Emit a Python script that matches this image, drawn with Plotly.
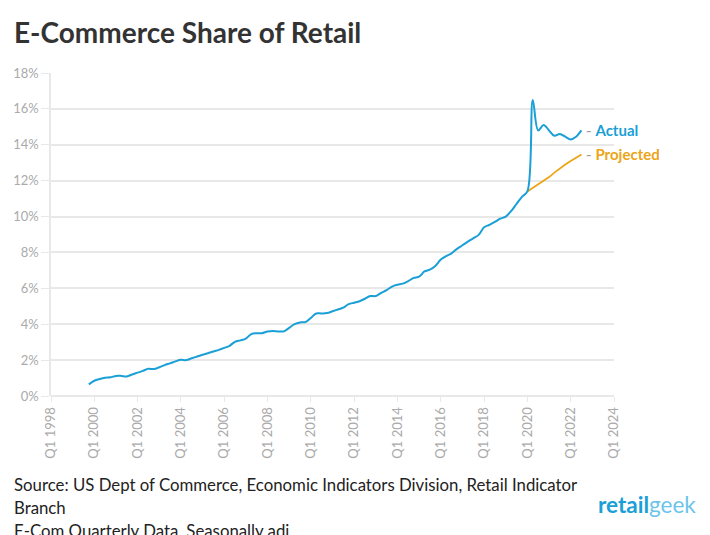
import pandas as pd
import plotly.graph_objects as go

# quarterly e-commerce share of total retail (%), Q4 1999 .. Q3 2022
start_quarter = "1999Q4"
actual = [
    0.65,
    0.85, 0.95, 1.02, 1.04,
    1.12, 1.12, 1.09, 1.2,
    1.3, 1.4, 1.52, 1.5,
    1.6, 1.72, 1.82, 1.93,
    2.02, 2.0, 2.1, 2.2,
    2.3, 2.38, 2.48, 2.57,
    2.68, 2.8, 3.02, 3.1,
    3.2, 3.45, 3.5, 3.5,
    3.6, 3.62, 3.6, 3.6,
    3.8, 4.0, 4.1, 4.12,
    4.35, 4.6, 4.6, 4.62,
    4.72, 4.82, 4.92, 5.12,
    5.2, 5.28, 5.42, 5.57,
    5.57, 5.75, 5.9, 6.1,
    6.2, 6.26, 6.4, 6.58,
    6.65, 6.94, 7.04, 7.25,
    7.6, 7.8, 7.95, 8.2,
    8.4, 8.6, 8.78, 8.98,
    9.4, 9.54, 9.7, 9.88,
    10.0, 10.3, 10.7, 11.1,
    11.4, 16.5, 14.8, 15.1,
    14.8, 14.5, 14.6, 14.45,
    14.3, 14.45, 14.8,
]

# pre-pandemic trend, Q1 2020 .. Q3 2022
projected_start = "2020Q1"
projected = [11.4, 11.6, 11.8, 12.0, 12.2, 12.45, 12.7, 12.9, 13.1, 13.3, 13.46]

series_names = ["Actual", "Projected"]
y_ticks = [0, 2, 4, 6, 8, 10, 12, 14, 16, 18]
x_range = ["1998-01-01", "2024-01-01"]

title_text = "E-Commerce Share of Retail"
source_lines = [
    "Source: US Dept of Commerce, Economic Indicators Division, Retail Indicator",
    "Branch",
    "E-Com Quarterly Data, Seasonally adj",
]

BLUE = "#1a9fd6"
ORANGE = "#eba516"
GRID = "#e8e8e8"
FONT = "Lato"

# plot area in page pixels, used to place the free texts
PL, PR, PT, PB = 51, 614, 73, 396


def px(x):
    return (x - PL) / (PR - PL)


def py(y):
    return (PB - y) / (PB - PT)


actual_x = pd.period_range(start_quarter, periods=len(actual), freq="Q").to_timestamp()
projected_x = pd.period_range(projected_start, periods=len(projected), freq="Q").to_timestamp()

fig = go.Figure()
fig.add_trace(go.Scatter(x=projected_x, y=projected, mode="lines", name=series_names[1],
                         line=dict(color=ORANGE, width=1.8), hoverinfo="x+y"))
fig.add_trace(go.Scatter(x=actual_x, y=actual, mode="lines", name=series_names[0],
                         line=dict(color=BLUE, width=2, shape="spline", smoothing=1.0),
                         hoverinfo="x+y"))

# end-of-line labels
for name, xs, ys, col in [(series_names[0], actual_x, actual, BLUE),
                          (series_names[1], projected_x, projected, ORANGE)]:
    fig.add_annotation(x=xs[-1], y=ys[-1], xref="x", yref="y", xanchor="left", yanchor="middle",
                       xshift=3, showarrow=False,
                       text="<span style='color:#999'>-</span> <b>%s</b>" % name,
                       font=dict(family=FONT, size=15, color=col))

fig.add_annotation(x=px(12), y=py(32), xref="paper", yref="paper", xanchor="left",
                   yanchor="middle", showarrow=False, text="<b>%s</b>" % title_text,
                   font=dict(family=FONT, size=28, color="#333333"))

for i, line in enumerate(source_lines):
    fig.add_annotation(x=px(12), y=py(484 + 23 * i), xref="paper", yref="paper",
                       xanchor="left", yanchor="middle", showarrow=False, text=line,
                       font=dict(family=FONT, size=16.8, color="#222222"))

fig.add_annotation(x=px(698), y=py(505), xref="paper", yref="paper", xanchor="right",
                   yanchor="middle", showarrow=False,
                   text="<b>retail</b><span style='color:#6cc4ea'>geek</span>",
                   font=dict(family=FONT, size=22.5, color=BLUE))

# the page adds an 8px body margin, so the margins are shifted by that much
fig.update_layout(
    width=710, height=535,
    margin=dict(l=PL - 8, r=710 - (PR - 8), t=PT - 8, b=535 - (PB - 8)),
    paper_bgcolor="white", plot_bgcolor="white",
    showlegend=False,
    font=dict(family=FONT, color="#aaaaaa", size=13),
)
fig.update_xaxes(type="date", range=x_range, dtick="M24", tick0="1998-01-01",
                 tickformat="Q%q %Y", tickangle=-90, showgrid=False, automargin=False,
                 showline=False, ticks="outside", ticklen=5, tickcolor=GRID,
                 tickfont=dict(family=FONT, size=13, color="#aaaaaa"))
fig.update_yaxes(range=[0, 18], tickvals=y_ticks, ticktext=["%d%%" % v for v in y_ticks],
                 automargin=False,
                 showgrid=True, gridcolor=GRID, gridwidth=1.5, zeroline=True, zerolinecolor=GRID,
                 zerolinewidth=1.5, showline=True, linecolor=GRID, linewidth=1.5,
                 ticks="outside", ticklen=8, tickcolor=GRID,
                 tickfont=dict(family=FONT, size=13, color="#aaaaaa"))

fig.write_html("out.html")
